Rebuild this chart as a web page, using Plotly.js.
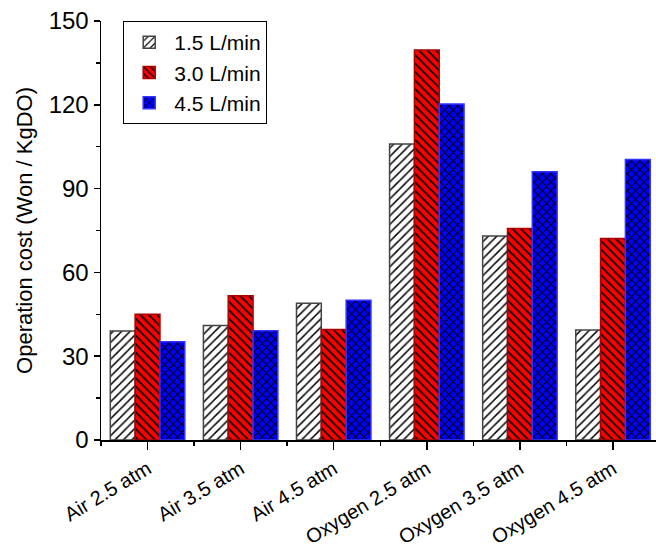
<!DOCTYPE html>
<html>
<head>
<meta charset="utf-8">
<script src="https://cdn.plot.ly/plotly-3.0.1.min.js"></script>
<style>html,body{margin:0;padding:0;background:#fff;}#chart{width:656px;height:557px;}</style>
</head>
<body>
<div id="chart"></div>
<script>
const categories = ["Air 2.5 atm", "Air 3.5 atm", "Air 4.5 atm", "Oxygen 2.5 atm", "Oxygen 3.5 atm", "Oxygen 4.5 atm"];
const seriesNames = ["1.5 L/min", "3.0 L/min", "4.5 L/min"];
const flow15 = [39, 41, 49, 106, 73, 39.4];
const flow30 = [45, 51.6, 39.6, 139.6, 75.7, 72.1];
const flow45 = [35.2, 39.1, 50, 120.3, 96, 100.4];
const yTickVals = [0, 30, 60, 90, 120, 150];

const xIdx = categories.map((_, i) => i);
const fam = "Liberation Sans, Arial, sans-serif";
const font = {family: fam, size: 22, color: "#000"};
const legendFont = {family: fam, size: 21, color: "#000"};
const yTickFont = {family: fam, size: 24, color: "#000"};
const xTickFont = {family: fam, size: 20, color: "#000"};

const styles = [
  {bg: "#ffffff", shape: "/", line: "#444444", sol: 0.25},
  {bg: "#ff0000", shape: "\\", line: "#aa0000", sol: 0.3},
  {bg: "#0000ff", shape: "x", line: "#3333ff", sol: 0.3}
];
const values = [flow15, flow30, flow45];

const traces = values.map((v, k) => ({
  type: "bar",
  name: seriesNames[k],
  x: xIdx,
  y: v,
  marker: {
    color: styles[k].bg,
    line: {color: styles[k].line, width: 1.5},
    pattern: {shape: styles[k].shape, fgcolor: "#000000", bgcolor: styles[k].bg, size: 6, solidity: styles[k].sol, fillmode: "replace"}
  },
  hoverinfo: "skip"
}));

const layout = {
  width: 656, height: 557,
  margin: {l: 101, r: 0, t: 21, b: 117},
  paper_bgcolor: "#fff", plot_bgcolor: "#fff",
  font: font,
  barmode: "group",
  bargap: 0.2,
  bargroupgap: 0,
  showlegend: true,
  legend: {
    x: 0.04, y: 1.0, xanchor: "left", yanchor: "top",
    bordercolor: "#000", borderwidth: 1, bgcolor: "#fff",
    font: legendFont, tracegroupgap: 0, itemwidth: 40
  },
  xaxis: {
    range: [-0.5, 5.462],
    tickmode: "array", tickvals: xIdx, ticktext: categories,
    tickangle: -31,
    ticklabelstandoff: 0,
    ticks: "outside", ticklen: 8, tickwidth: 1.5, tickcolor: "#000",
    minor: {tickmode: "linear", tick0: 0.5, dtick: 1, ticks: "outside", ticklen: 4, tickwidth: 1.5, tickcolor: "#000"},
    showline: true, linecolor: "#000", linewidth: 1.5,
    showgrid: false, zeroline: false,
    tickfont: xTickFont
  },
  yaxis: {
    range: [0, 150],
    tickmode: "array", tickvals: yTickVals,
    ticks: "outside", ticklen: 6, tickwidth: 1.5, tickcolor: "#000",
    minor: {tickmode: "linear", tick0: 15, dtick: 30, ticks: "outside", ticklen: 4, tickwidth: 1.5, tickcolor: "#000"},
    showline: true, linecolor: "#000", linewidth: 1.5,
    showgrid: false, zeroline: false,
    tickfont: yTickFont,
    title: {text: "Operation cost (Won / KgDO)", font: font, standoff: 10}
  }
};

Plotly.newPlot("chart", traces, layout, {displayModeBar: false, staticPlot: true});
</script>
</body>
</html>
